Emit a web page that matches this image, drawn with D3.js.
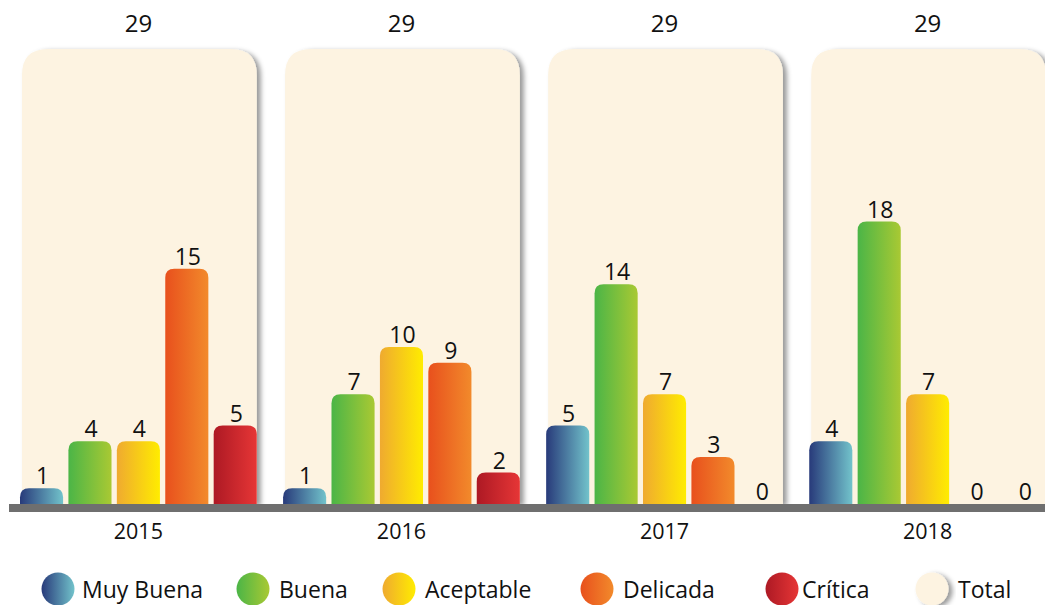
<!DOCTYPE html>
<html><head><meta charset="utf-8">
<script src="https://cdn.jsdelivr.net/npm/d3@7"></script>
<style>body{margin:0;background:#fff}svg{display:block}text{font-family:"Open Sans","Noto Sans",sans-serif;fill:#111}</style>
</head><body><svg id="c" width="1045" height="605"></svg>
<script>
const years = ["2015","2016","2017","2018"];
const series = ["Muy Buena","Buena","Aceptable","Delicada","Crítica"];
const muyBuena = [1,1,5,4];
const buena = [4,7,14,18];
const aceptable = [4,10,7,7];
const delicada = [15,9,3,0];
const critica = [5,2,0,0];
const totals = [29,29,29,29];
const values = [muyBuena,buena,aceptable,delicada,critica];
const gradColors = [["#283a7a","#72c3cb"],["#4bb547","#a9c933"],["#efaa30","#ffec00"],["#e8501d","#f28a2b"],["#ad1924","#e63636"]];
const totalColor = "#fdf3e1";

const svg = d3.select("#c");
const defs = svg.append("defs");
gradColors.forEach((c,i)=>{
  const g = defs.append("linearGradient").attr("id","g"+i).attr("x1","0%").attr("x2","100%").attr("y1","0%").attr("y2","0%");
  g.append("stop").attr("offset","0%").attr("stop-color",c[0]);
  g.append("stop").attr("offset","100%").attr("stop-color",c[1]);
});
const f = defs.append("filter").attr("id","sh").attr("x","-10%").attr("y","-10%").attr("width","130%").attr("height","130%");
f.append("feDropShadow").attr("dx",4).attr("dy",2).attr("stdDeviation",2.5).attr("flood-color","#000").attr("flood-opacity",0.4);

const baseY = 504;
const x0 = d3.scaleBand().domain(years).range([20,1046]).paddingInner(0.1).paddingOuter(0);
const x1 = d3.scaleBand().domain(series).range([0,x0.bandwidth()]).paddingInner(0.11).paddingOuter(0);
const y = d3.scaleLinear().domain([0,29]).range([baseY,49]);

function topRounded(x,yT,w,h,r){
  r = Math.min(r,h,w/2);
  return `M${x},${yT+h}V${yT+r}Q${x},${yT} ${x+r},${yT}H${x+w-r}Q${x+w},${yT} ${x+w},${yT+r}V${yT+h}Z`;
}

const groups = svg.selectAll("g.grp").data(years).join("g").attr("class","grp").attr("transform",d=>`translate(${x0(d)},0)`);
groups.append("path").attr("fill",totalColor).attr("filter","url(#sh)")
  .attr("d",(d,i)=>topRounded(2,y(totals[i]),x0.bandwidth()-2,baseY-y(totals[i]),26));
groups.append("text").attr("x",x0.bandwidth()/2).attr("y",(d,i)=>y(totals[i])-17).attr("text-anchor","middle").attr("font-size",24).text((d,i)=>totals[i]);

series.forEach((s,si)=>{
  groups.each(function(d,gi){
    const v = values[si][gi];
    const g = d3.select(this);
    if(v>0){
      g.append("path").attr("fill",`url(#g${si})`)
        .attr("d",topRounded(x1(s),y(v),x1.bandwidth(),baseY-y(v),9));
    }
    g.append("text").attr("x",x1(s)+x1.bandwidth()/2+1).attr("y",y(v)-4).attr("text-anchor","middle").attr("font-size",23).text(v);
  });
});

svg.append("rect").attr("x",9).attr("y",baseY).attr("width",1045-9).attr("height",8).attr("fill","#6f6f6f");
svg.selectAll("text.yr").data(years).join("text").attr("class","yr").attr("x",d=>x0(d)+x0.bandwidth()/2).attr("y",539).attr("text-anchor","middle").attr("font-size",21.5).text(d=>d);

const legItems = [
  {name:"Muy Buena",fill:"url(#g0)",cx:58,tx:82},
  {name:"Buena",fill:"url(#g1)",cx:253,tx:279},
  {name:"Aceptable",fill:"url(#g2)",cx:399,tx:425},
  {name:"Delicada",fill:"url(#g3)",cx:597,tx:623},
  {name:"Crítica",fill:"url(#g4)",cx:782,tx:802},
  {name:"Total",fill:totalColor,cx:932,tx:958,sh:true}
];
const lg = svg.selectAll("g.leg").data(legItems).join("g").attr("class","leg");
lg.append("circle").attr("cx",d=>d.cx).attr("cy",589).attr("r",16.5).attr("fill",d=>d.fill).attr("filter",d=>d.sh?"url(#sh)":null);
lg.append("text").attr("x",d=>d.tx).attr("y",598).attr("font-size",23).text(d=>d.name);
</script></body></html>
